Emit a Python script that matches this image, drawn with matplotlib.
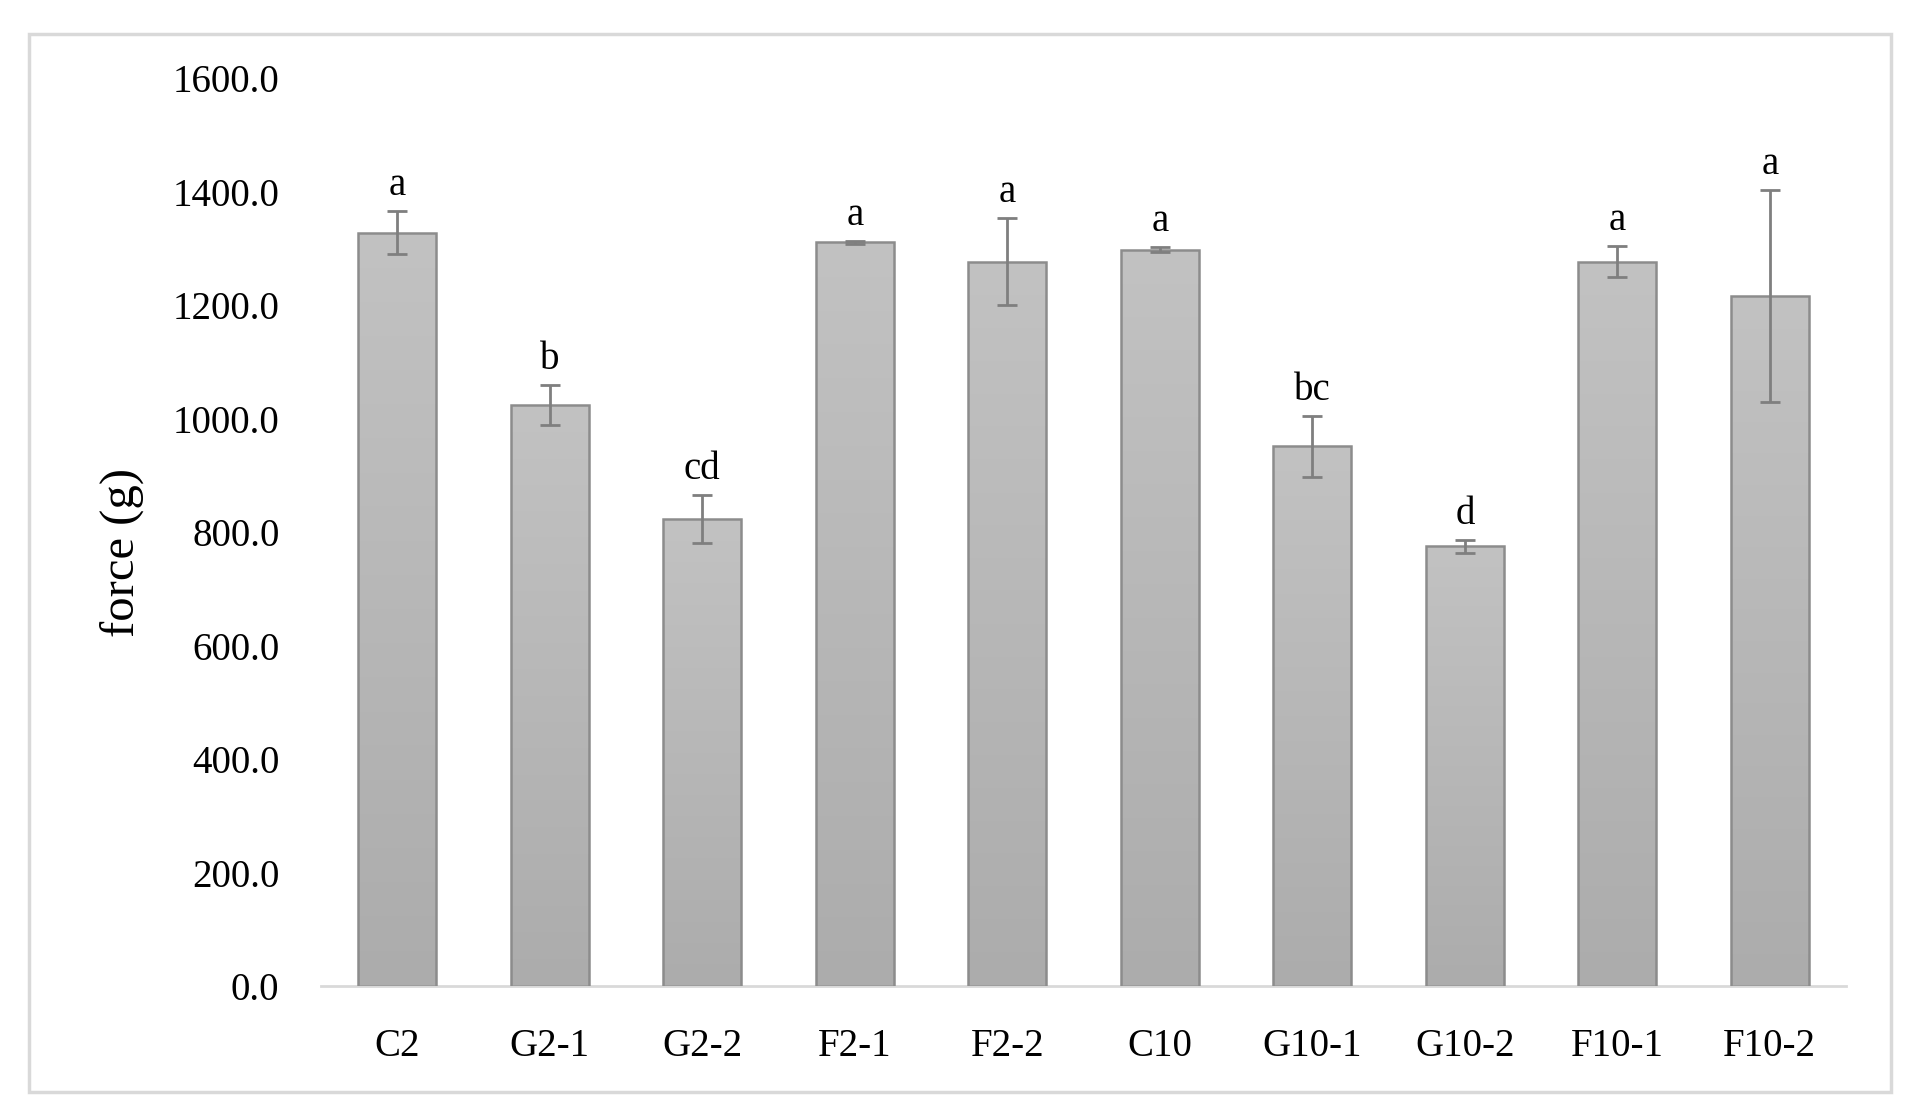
import numpy as np
import matplotlib.pyplot as plt
from matplotlib.patches import Rectangle

# Data
groups  = ['C2', 'G2-1', 'G2-2', 'F2-1', 'F2-2', 'C10', 'G10-1', 'G10-2', 'F10-1', 'F10-2']
force   = [1328, 1024, 823, 1311, 1277, 1298, 951, 775, 1277, 1216]
err     = [38, 35, 42, 3, 77, 4, 54, 11, 28, 187]
letters = ['a', 'b', 'cd', 'a', 'a', 'a', 'bc', 'd', 'a', 'a']
yticks  = [0, 200, 400, 600, 800, 1000, 1200, 1400, 1600]

plt.rcParams['font.family'] = ['Liberation Serif', 'DejaVu Serif']

fig = plt.figure(figsize=(19.19, 11.18), dpi=100)
ax = fig.add_axes([0.1673, 0.1181, 0.7947, 0.8119])

# outer frame
fig.patches.append(Rectangle((29/1919, 1 - 1092/1118), (1891-29)/1919, (1092-34)/1118,
                             transform=fig.transFigure, fill=False,
                             edgecolor='#d9d9d9', linewidth=2.5))

x = np.arange(len(groups))
bars = ax.bar(x, force, width=0.51, color='none', edgecolor='#8c8c8c', linewidth=1.8, zorder=3)

# light vertical gradient inside each bar
cmap = plt.matplotlib.colors.LinearSegmentedColormap.from_list('g', ['#acacac', '#c2c2c2'])
grad = np.linspace(0, 1, 256).reshape(-1, 1)
for b in bars:
    x0, w, h = b.get_x(), b.get_width(), b.get_height()
    im = ax.imshow(grad, extent=[x0, x0 + w, 0, h], aspect='auto', origin='lower',
                   cmap=cmap, zorder=2)
    im.set_clip_path(b)

ax.errorbar(x, force, yerr=err, fmt='none', ecolor='#7f7f7f', elinewidth=2,
            capsize=7, capthick=2, zorder=4)

for xi, f, e, t in zip(x, force, err, letters):
    ax.annotate(t, (xi, f + e), xytext=(0, 5), textcoords='offset points',
                ha='center', va='bottom', fontsize=28)

ax.set_xlim(-0.5, len(groups) - 0.5)
ax.set_ylim(0, 1600)
ax.set_yticks(yticks)
ax.set_yticklabels(['%.1f' % v for v in yticks])
ax.set_xticks(x)
ax.set_xticklabels(groups)
ax.tick_params(axis='both', length=0, labelsize=28)
ax.tick_params(axis='y', pad=30)
ax.tick_params(axis='x', pad=30)
ax.set_ylabel('force (g)', fontsize=35)
ax.yaxis.set_label_coords(-0.116, 0.477)

for s in ['top', 'right', 'left']:
    ax.spines[s].set_visible(False)
ax.spines['bottom'].set_color('#d9d9d9')
ax.spines['bottom'].set_linewidth(2)

fig.savefig('out.png', dpi=100)
